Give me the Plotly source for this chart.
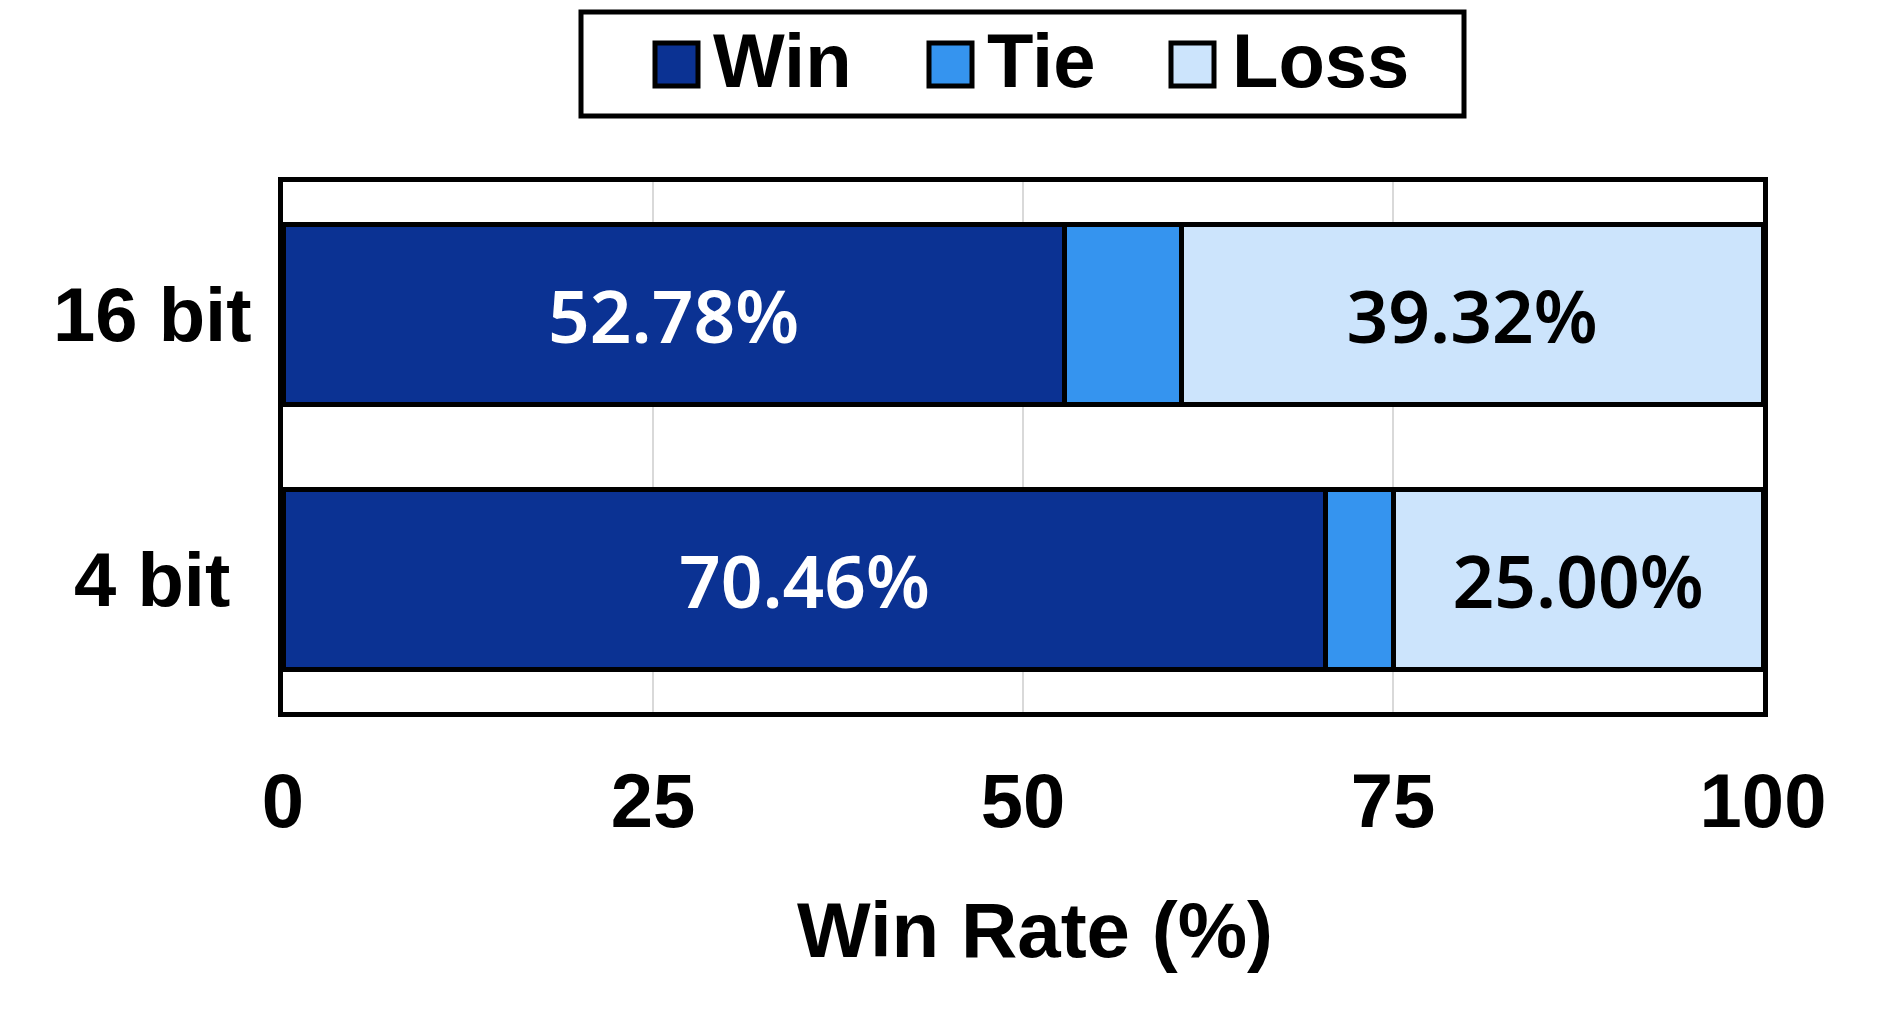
import plotly.graph_objects as go

categories = ["16 bit", "4 bit"]
win = [52.78, 70.46]
tie = [7.90, 4.54]
loss = [39.32, 25.00]
series_names = ["Win", "Tie", "Loss"]
colors = ["#0B3293", "#3594EF", "#CCE4FC"]
x_ticks = [0, 25, 50, 75, 100]
x_title = "Win Rate (%)"

W, H = 1878, 1017
OFF = 8  # page body margin
L, R, T, B = 283, 1763, 182, 712  # plot area in page pixels


def px(x):
    return (x - L) / (R - L)


def py(y):
    return (B - y) / (B - T)


fig = go.Figure()
label_colors = ["white", None, "black"]
for name, vals, col, lc in zip(series_names, [win, tie, loss], colors, label_colors):
    txt = [f"{v:.2f}%" for v in vals] if lc else ["" for v in vals]
    fig.add_trace(go.Bar(
        y=categories, x=vals, name=name, orientation="h",
        marker=dict(color=col, line=dict(color="black", width=5)),
        text=txt, textposition="inside", insidetextanchor="middle",
        textangle=0, constraintext="none",
        textfont=dict(family="Noto Sans", size=73, weight=600, color=lc or "black"),
        showlegend=False,
    ))

font_main = dict(family="Liberation Sans, Arial", size=76, weight="bold", color="black")

fig.update_layout(
    width=W, height=H,
    barmode="stack", bargap=0.32,
    margin=dict(l=L - OFF, r=W - (R - OFF), t=T - OFF, b=H - (B - OFF), pad=0),
    plot_bgcolor="white", paper_bgcolor="white",
    font=font_main,
    showlegend=False,
)
fig.update_xaxes(
    range=[0, 100], tickvals=x_ticks, ticktext=[str(t) for t in x_ticks],
    showgrid=True, gridcolor="#d9d9d9", gridwidth=2,
    showline=True, linecolor="black", linewidth=5, mirror=True,
    ticks="", tickfont=font_main, ticklabelstandoff=19, zeroline=False,
)
fig.update_yaxes(
    range=[1.5, -0.5], showticklabels=False, showgrid=False,
    showline=True, linecolor="black", linewidth=5, mirror=True, ticks="",
)

annotations = []
for c in categories:
    annotations.append(dict(x=px(152), y=c, xref="paper", yref="y", text=c,
                            showarrow=False, xanchor="center", yanchor="middle",
                            font=font_main))

# x-axis title
annotations.append(dict(x=px(1035), y=py(930), xref="paper", yref="paper", text=x_title,
                        showarrow=False, xanchor="center", yanchor="middle",
                        font=dict(family="Liberation Sans, Arial", size=78, weight="bold", color="black")))

shapes = []
# legend box
shapes.append(dict(type="rect", xref="paper", yref="paper",
                   x0=px(581), x1=px(1464), y0=py(116), y1=py(12),
                   line=dict(color="black", width=5), fillcolor="white"))
leg_marker_x = [655, 929, 1171]
leg_text_x = [711, 985, 1230]
for name, col, mx, tx in zip(series_names, colors, leg_marker_x, leg_text_x):
    shapes.append(dict(type="rect", xref="paper", yref="paper",
                       x0=px(mx), x1=px(mx + 43), y0=py(86), y1=py(43),
                       line=dict(color="black", width=5), fillcolor=col))
    annotations.append(dict(x=px(tx), y=py(61), xref="paper", yref="paper", text=name,
                            showarrow=False, xanchor="left", yanchor="middle",
                            font=font_main))

fig.update_layout(shapes=shapes, annotations=annotations)
fig.write_html("out.html")
